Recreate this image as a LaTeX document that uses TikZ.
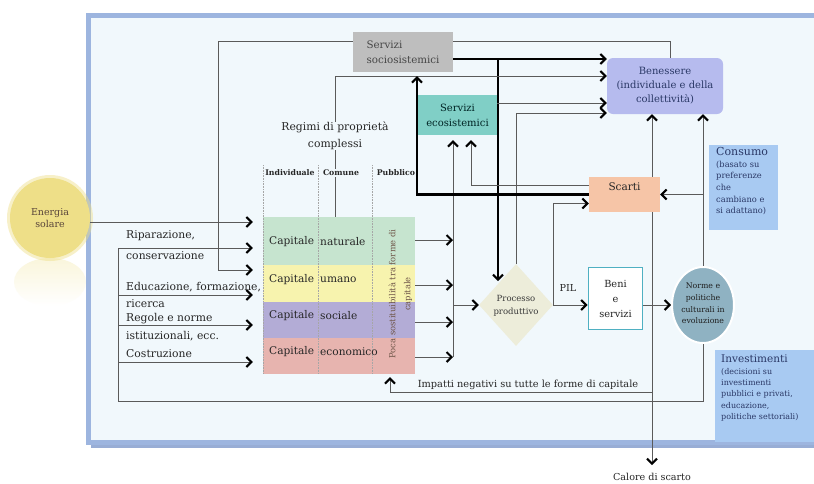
\documentclass[tikz,border=0pt]{standalone}
\usepackage{fontspec}
\setmainfont{DejaVu Serif}
\usetikzlibrary{arrows.meta,shapes.geometric}
\newcommand{\fz}[2]{\fontsize{#1}{#2}\selectfont}
\definecolor{bgin}{HTML}{F1F8FC}
\definecolor{frameb}{HTML}{9DB5DF}
\definecolor{frsh}{HTML}{7F99CB}
\definecolor{lgray}{HTML}{BEBEBE}
\definecolor{benec}{HTML}{B6BBEE}
\definecolor{ecoc}{HTML}{80CFC6}
\definecolor{scarc}{HTML}{F6C5A7}
\definecolor{benib}{HTML}{4FB0C2}
\definecolor{procc}{HTML}{EDEDDA}
\definecolor{normc}{HTML}{8FB2C2}
\definecolor{consc}{HTML}{A8CAF2}
\definecolor{natc}{HTML}{C6E4CF}
\definecolor{umac}{HTML}{F7F3AE}
\definecolor{socc}{HTML}{B3ACD6}
\definecolor{econc}{HTML}{E7B4AF}
\definecolor{solec}{HTML}{EEDF88}
\definecolor{txt}{HTML}{262626}
\definecolor{navy}{HTML}{2A3866}
\definecolor{lin}{HTML}{5A5A5A}
\definecolor{brn}{HTML}{6E5548}
\pgfdeclarelayer{framel}
\pgfdeclarelayer{linesl}
\pgfsetlayers{framel,linesl,main}
\begin{document}
\begin{tikzpicture}[x=1pt,y=-1pt,
  >={Straight Barb[length=5pt,width=10pt,line width=2.1pt,color=black]},
  lnk/.style={draw=lin, line width=0.95pt, ->},
  thk/.style={draw=black, line width=2.3pt, ->},
  plain/.style={draw=lin, line width=0.95pt},
  toblock/.style={lnk, shorten >=10pt},
  box/.style={rectangle, inner sep=0pt, align=center, text=txt},
  lbl/.style={text=txt, inner sep=0pt, align=left},
  hdr/.style={text=txt, inner sep=1pt, fill=bgin, font=\bfseries\fz{7.8}{9}},
  dotl/.style={draw=gray!70, line width=0.6pt, densely dotted}]
\useasboundingbox (0,0) rectangle (814,483);
\clip (0,0) rectangle (814,483);

\begin{pgfonlayer}{framel}
\fill[white] (0,0) rectangle (814,483);
\fill[frsh!80] (91,19) rectangle (840,448);
\draw[draw=frameb, line width=5pt, fill=bgin] (88,15) rectangle (840,442);
\shade[top color=solec!30, bottom color=white] (50,282) ellipse (36 and 24);
\fill[solec, opacity=0.45] (50,218) circle (43);
\end{pgfonlayer}

% ---------- nodes ----------
\node[circle, fill=solec, minimum size=80pt, inner sep=0pt, align=center, text=brn!80!black, font=\fz{9.5}{12}] (sole) at (50,218) {Energia\\solare};

\node[box, fill=lgray, minimum width=100pt, minimum height=40pt, align=left, text=black!72, font=\fz{10.3}{15}] (socio) at (403,52) {Servizi\\sociosistemici};
\node[box, fill=benec, rounded corners=6pt, minimum width=116pt, minimum height=56pt, text=navy, font=\fz{10}{14}] (bene) at (665,86) {Benessere\\(individuale e della\\collettività)};
\node[box, fill=ecoc, minimum width=79pt, minimum height=40pt, text=black!72!teal, font=\fz{10}{15}] (eco) at (457.5,115) {Servizi\\ecosistemici};
\node[box, fill=scarc, minimum width=71pt, minimum height=35pt, font=\fz{10.5}{13}] (scarti) at (624.5,194.5) {Scarti\\[3pt]};
\node[box, fill=white, draw=benib, line width=1.6pt, minimum width=54pt, minimum height=62pt, font=\fz{9.8}{15}] (beni) at (615.5,298.5) {Beni\\e\\servizi};
\node[diamond, fill=procc, minimum width=74pt, minimum height=82pt, inner sep=0pt] (proc) at (516,305) {};
\node[box, text=black!78, font=\fz{8.5}{13}] (proctxt) at (516,306) {Processo\\produttivo};
\node[ellipse, fill=normc, draw=white, line width=2pt, minimum width=62pt, minimum height=76pt, inner sep=0pt] (norme) at (703,305) {};
\node[box, text=black!88, font=\fz{7.8}{11.7}] (normetxt) at (703,303.5) {Norme e\\politiche\\culturali in\\evoluzione};

\node[rectangle, fill=consc, minimum width=69pt, minimum height=85pt, inner sep=0pt] (cons) at (743.5,187.5) {};
\node[lbl, anchor=north west, text=navy, font=\fz{8.3}{11.7}] (constxt) at (716,147) {{\fz{11}{14}Consumo}\\(basato su\\preferenze\\che\\cambiano e\\si adattano)};
\node[rectangle, fill=consc, minimum width=101pt, minimum height=92pt, inner sep=0pt] (inv) at (765.5,396) {};
\node[lbl, anchor=north west, text=navy, font=\fz{8}{11.3}] (invtxt) at (721,355) {{\fz{10.5}{12}Investimenti}\\(decisioni su\\investimenti\\pubblici e privati,\\educazione,\\politiche settoriali)};

% capital block
\node[rectangle, fill=natc, minimum width=152pt, minimum height=48pt, inner sep=0pt] (nat) at (339,241) {};
\node[rectangle, fill=umac, minimum width=152pt, minimum height=37pt, inner sep=0pt] (uma) at (339,283.5) {};
\node[rectangle, fill=socc, minimum width=152pt, minimum height=36pt, inner sep=0pt] (soc) at (339,320) {};
\node[rectangle, fill=econc, minimum width=152pt, minimum height=36pt, inner sep=0pt] (econ) at (339,356) {};
\draw[dotl] (263,165) -- (263,374);
\draw[dotl] (318,165) -- (318,374);
\draw[dotl] (372,165) -- (372,374);
\node[hdr] (hind) at (290,173) {Individuale};
\node[hdr] (hcom) at (341,173) {Comune};
\node[hdr] (hpub) at (396,173) {Pubblico};
\foreach \n/\w/\yy in {a/naturale/242, b/umano/280, c/sociale/316, d/economico/352}{
  \node[lbl, anchor=west, font=\fz{10.6}{13}] (cap\n) at (269,\yy) {Capitale};
  \node[lbl, anchor=west, font=\fz{10.6}{13}] (w\n) at (320,\yy) {\w};
}
\node[rotate=90, align=center, text=brn, inner sep=0pt, font=\fz{8.4}{15}] (poca) at (400.5,294) {Poca sostituibilità tra forme di\\capitale};

\node[box, font=\fz{10.8}{17}] (regimi) at (335,136) {Regimi di proprietà\\complessi};

\node[lbl, anchor=west, font=\fz{10.8}{21}] (rip) at (126,245.5) {Riparazione,\\conservazione};
\node[lbl, anchor=west, font=\fz{10.8}{17}] (edu) at (126,294.5) {Educazione, formazione,\\ricerca};
\node[lbl, anchor=west, font=\fz{10.8}{18}] (reg) at (126,327) {Regole e norme\\istituzionali, ecc.};
\node[lbl, anchor=west, font=\fz{10.8}{13}] (cos) at (126,354) {Costruzione};

\node[lbl, font=\fz{9.8}{12}] (imp) at (528,385) {Impatti negativi su tutte le forme di capitale};
\node[lbl, font=\fz{9.6}{12}] (calore) at (652,477) {Calore di scarto};
\node[lbl, font=\fz{9.6}{12}] (pil) at (568,288) {PIL};

% ---------- connectors ----------
\begin{pgfonlayer}{linesl}
\coordinate (t1) at (118,248);
\coordinate (t2) at (118,295);
\coordinate (t3) at (118,325);
\coordinate (t4) at (118,362);
\coordinate (tb) at (118,401);
\draw[toblock] (sole.east |- 0,222) -- (nat.west |- 0,222);
\draw[plain] (norme.south) |- (tb) -- (t1);
\draw[toblock] (t1) -- (t1 -| nat.west);
\draw[toblock] (t2) -- (t2 -| uma.west);
\draw[toblock] (t3) -- (t3 -| soc.west);
\draw[toblock] (t4) -- (t4 -| econ.west);
\draw[toblock] ([yshift=11pt]socio.west) -| (218,270) -- (uma.west |- 0,270);

% capital to collector
\coordinate (c1) at (453,240);
\coordinate (c2) at (453,285);
\coordinate (c3) at (453,322);
\coordinate (c4) at (453,357);
\coordinate (cp) at (453,305);
\draw[lnk] (nat.east |- c1) -- (c1);
\draw[lnk] (uma.east |- c2) -- (c2);
\draw[lnk] (soc.east |- c3) -- (c3);
\draw[lnk] (econ.east |- c4) -- (c4);
\draw[lnk, shorten >=5pt] (c4) -- (eco.south -| c4);
\draw[lnk] (cp) -- (proc.west);

% to Benessere
\draw[plain] ([yshift=11pt]socio.east) -| (bene.north -| 670,0);
\draw[thk] ([yshift=-7pt]socio.east) -- (bene.west |- 0,59);
\draw[thk, shorten >=1pt] (498,59) -- (498,282);
\draw[lnk] (regimi.north) |- (bene.west |- 0,76);
\draw[plain] (regimi.south) -- (regimi.south |- nat.north);
\draw[lnk] ([yshift=12pt]eco.east) -- (bene.west |- 0,103);
\draw[lnk] (proc.north) |- (bene.west |- 0,113);

% Scarti
\draw[lnk, shorten >=5pt] ([yshift=9.5pt]scarti.west) -| (eco.south -| 471,0);
\draw[thk, shorten >=4pt] (scarti.west) -| (socio.south -| 417,0);
\draw[lnk] (proc.east) -- (beni.west |- proc.east);
\draw[lnk] (proc.east) |- ([yshift=-9pt]scarti.west);
\draw[lnk] (beni.east |- norme.west) -- (norme.west);
\draw[lnk] (norme.north) -- (bene.south -| norme.north);
\draw[lnk] (norme.north |- scarti.east) -- (scarti.east);
\coordinate (sN) at ([xshift=27.5pt]scarti.north);
\coordinate (sS) at ([xshift=27.5pt]scarti.south);
\coordinate (sI) at (652,392);
\draw[lnk] (sN) -- (sN |- bene.south);
\draw[lnk, shorten >=8pt] (sS) -- (calore.north);
\draw[lnk, shorten >=3pt] (sI) -| (econ.south -| 390,0);
\end{pgfonlayer}
\end{tikzpicture}
\end{document}
